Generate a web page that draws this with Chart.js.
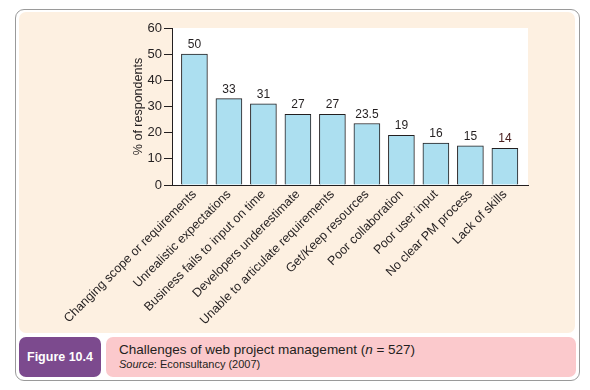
<!DOCTYPE html>
<html>
<head>
<meta charset="utf-8">
<script src="https://cdn.jsdelivr.net/npm/chart.js@4/dist/chart.umd.min.js"></script>
<style>
  body { margin: 0; width: 590px; height: 390px; background: #fff; position: relative; overflow: hidden;
         font-family: "Liberation Sans", Arial, sans-serif; color: #231f20; }
  .frame { position: absolute; left: 15px; top: 9px; width: 563px; height: 370px;
           border: 1px solid #9a9a9a; border-radius: 9px; background: #fff; }
  .panel { position: absolute; left: 19px; top: 12px; width: 556px; height: 321px;
           border-radius: 7px; background: #fdf0e1; }
  .fig { position: absolute; left: 19px; top: 337px; width: 82px; height: 40px; border-radius: 7px;
         background: #7c4a8e; color: #fff; font-weight: bold; font-size: 12.5px;
         line-height: 40px; text-align: center; }
  .cap { position: absolute; left: 106px; top: 337px; width: 470px; height: 40px; border-radius: 7px;
         background: #fbc9cc; }
  .cap .t { position: absolute; left: 13px; top: 5px; font-size: 13.5px; }
  .cap .s { position: absolute; left: 13px; top: 21px; font-size: 11px; }
  canvas { position: absolute; left: 0; top: 0; }
</style>
</head>
<body>
<div class="frame"></div>
<div class="panel"></div>
<div class="fig">Figure 10.4</div>
<div class="cap">
  <div class="t">Challenges of web project management (<i>n</i> = 527)</div>
  <div class="s"><i>Source</i>: Econsultancy (2007)</div>
</div>
<canvas id="chart" width="590" height="390"></canvas>
<script>
// chart data
const categories = [
  'Changing scope or requirements',
  'Unrealistic expectations',
  'Business fails to input on time',
  'Developers underestimate',
  'Unable to articulate requirements',
  'Get/Keep resources',
  'Poor collaboration',
  'Poor user input',
  'No clear PM process',
  'Lack of skills'
];
const values = [50, 33, 31, 27, 27, 23.5, 19, 16, 15, 14];
const valueLabels = ['50', '33', '31', '27', '27', '23.5', '19', '16', '15', '14'];
const yTicks = [0, 10, 20, 30, 40, 50, 60];

const ink = '#231f20';
const font = '"Liberation Sans", Arial, sans-serif';

// white plot background
const plotBackground = {
    id: 'plotBackground',
    beforeDraw(chart) {
        const { ctx, chartArea: a } = chart;
        ctx.save();
        ctx.fillStyle = '#ffffff';
        ctx.fillRect(a.left, a.top, a.right - a.left, a.bottom - a.top);
        ctx.restore();
    }
};

// numbers above the bars
const barValues = {
    id: 'barValues',
    afterDatasetsDraw(chart) {
        const { ctx } = chart;
        const meta = chart.getDatasetMeta(0);
        ctx.save();
        ctx.font = '12px ' + font;
        ctx.textAlign = 'center';
        ctx.textBaseline = 'alphabetic';
        meta.data.forEach((bar, i) => {
            ctx.fillStyle = i === values.length - 1 ? '#4a2020' : ink;
            ctx.fillText(valueLabels[i], bar.x, bar.y - 6);
        });
        ctx.restore();
    }
};

new Chart(document.getElementById('chart'), {
    type: 'bar',
    data: {
        datasets: [{
            data: values.map((v, i) => ({ x: i, y: v })),
            backgroundColor: '#acdff0',
            borderColor: ink,
            borderWidth: 1,
            barThickness: 26
        }]
    },
    options: {
        responsive: false,
        animation: false,
        devicePixelRatio: 1,
        layout: { padding: { left: 131, top: 28, right: 62, bottom: 0 } },
        plugins: {
            legend: { display: false },
            tooltip: { enabled: false }
        },
        scales: {
            x: {
                type: 'linear',
                offset: false,
                min: -0.65,
                max: 9.67,
                afterBuildTicks: axis => {
                    axis.ticks = categories.map((c, i) => ({ value: i }));
                },
                afterFit: scale => { scale.height = 390 - 185; },
                ticks: {
                    autoSkip: false,
                    maxRotation: 45,
                    minRotation: 45,
                    padding: 2,
                    color: ink,
                    font: { family: font, size: 12.5 },
                    callback: v => categories[v]
                },
                grid: { display: false, drawTicks: false, offset: false },
                border: { display: true, color: ink, width: 1 }
            },
            y: {
                min: 0,
                max: 60,
                afterBuildTicks: axis => {
                    axis.ticks = yTicks.map(v => ({ value: v }));
                },
                afterFit: scale => { scale.width = 41; },
                title: {
                    display: true,
                    text: '% of respondents',
                    color: ink,
                    padding: 0,
                    font: { family: font, size: 12.5 }
                },
                ticks: {
                    padding: 2,
                    color: ink,
                    font: { family: font, size: 13 }
                },
                grid: {
                    drawOnChartArea: false,
                    drawTicks: true,
                    tickLength: 8,
                    color: ink
                },
                border: { display: true, color: ink, width: 1 }
            }
        }
    },
    plugins: [plotBackground, barValues]
});
</script>
</body>
</html>
